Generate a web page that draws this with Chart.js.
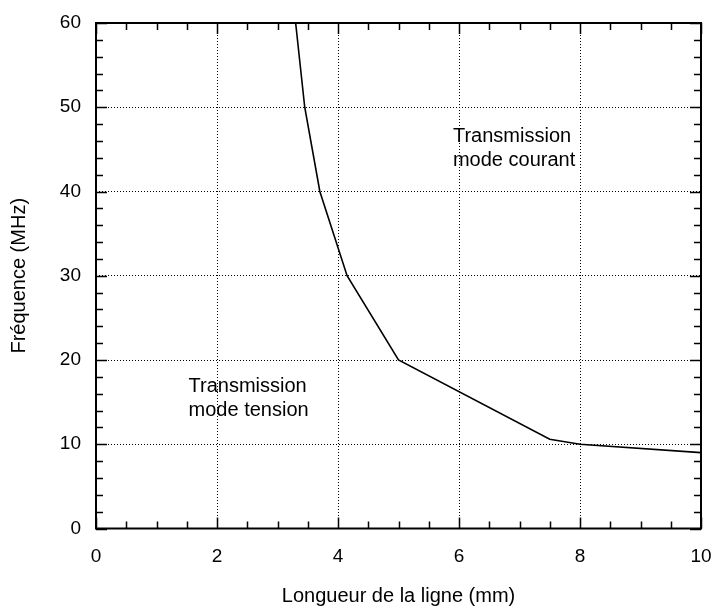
<!DOCTYPE html>
<html><head><meta charset="utf-8">
<script src="https://cdn.jsdelivr.net/npm/chart.js@4.4.0/dist/chart.umd.min.js"></script>
<style>html,body{margin:0;padding:0;background:#fff}#wrap{width:712px;height:606px}</style>
</head><body><div id="wrap"><canvas id="c" width="712" height="606"></canvas></div>
<script>
// ---- data ----
const lengthsMm = [3.3, 3.45, 3.7, 4.15, 5, 7.5, 8, 10];
const freqMHz   = [60, 50, 40, 30, 20, 10.6, 10, 9];
const xTickValues = [0, 2, 4, 6, 8, 10];
const yTickValues = [0, 10, 20, 30, 40, 50, 60];
const xTitle = 'Longueur de la ligne (mm)';
const yTitle = 'Fréquence (MHz)';
const labelCourant = ['Transmission', 'mode courant'];
const labelTension = ['Transmission', 'mode tension'];

const FONT = "'Liberation Sans', Arial, sans-serif";
Chart.defaults.font.family = FONT;
Chart.defaults.color = '#000';

const points = lengthsMm.map((x, i) => ({x: x, y: freqMHz[i]}));

const framePlugin = {
  id: 'frameTicks',
  afterDatasetsDraw(chart) {
    const ctx = chart.ctx, a = chart.chartArea;
    const xs = chart.scales.x, ys = chart.scales.y;
    ctx.save();
    ctx.strokeStyle = '#000';
    ctx.lineWidth = 1.5;
    ctx.beginPath();
    for (let v = xs.min; v <= xs.max + 1e-9; v += 0.5) {
      const px = Math.round(xs.getPixelForValue(v)) + 0.5;
      const major = xTickValues.includes(Math.round(v * 100) / 100);
      const len = major ? 11 : 7;
      ctx.moveTo(px, a.bottom); ctx.lineTo(px, a.bottom - len);
      ctx.moveTo(px, a.top); ctx.lineTo(px, a.top + len);
    }
    for (let v = ys.min; v <= ys.max + 1e-9; v += 2) {
      const py = Math.round(ys.getPixelForValue(v)) + 0.5;
      const major = yTickValues.includes(Math.round(v));
      const len = major ? 11 : 7;
      ctx.moveTo(a.left, py); ctx.lineTo(a.left + len, py);
      ctx.moveTo(a.right, py); ctx.lineTo(a.right - len, py);
    }
    ctx.stroke();
    ctx.lineWidth = 2;
    ctx.strokeRect(a.left, a.top, a.right - a.left, a.bottom - a.top);

    ctx.fillStyle = '#000';
    ctx.font = '20px ' + FONT;
    ctx.textAlign = 'left';
    ctx.textBaseline = 'alphabetic';
    const drawLbl = (lines, xv, yv) => {
      const px = xs.getPixelForValue(xv), py = ys.getPixelForValue(yv);
      lines.forEach((t, i) => ctx.fillText(t, px, py + i * 24));
    };
    drawLbl(labelCourant, 5.9, 45.85);
    drawLbl(labelTension, 1.53, 16.2);
    ctx.restore();
  }
};

new Chart(document.getElementById('c'), {
  type: 'scatter',
  data: {
    datasets: [{
      data: points,
      showLine: true,
      borderColor: '#000',
      borderWidth: 1.6,
      pointRadius: 0,
      fill: false,
      tension: 0
    }]
  },
  options: {
    responsive: false,
    animation: false,
    devicePixelRatio: 1,
    layout: { padding: { top: 23, right: 11, left: 0, bottom: 0 } },
    plugins: { legend: { display: false }, tooltip: { enabled: false } },
    scales: {
      x: {
        type: 'linear', min: 0, max: 10,
        afterBuildTicks: s => { s.ticks = xTickValues.map(v => ({value: v})); },
        afterFit: s => { s.height = 77.5; s.paddingLeft = 0; s.paddingRight = 0; },
        grid: { color: '#000', lineWidth: 1, drawTicks: false },
        border: { display: false, dash: [1, 2] },
        ticks: { font: { size: 19 }, padding: 17, color: '#000', maxRotation: 0 },
        title: { display: true, text: xTitle, font: { size: 20, lineHeight: 1.0 }, padding: { top: 0, bottom: 0 }, color: '#000' }
      },
      y: {
        type: 'linear', min: 0, max: 60,
        afterBuildTicks: s => { s.ticks = yTickValues.map(v => ({value: v})); },
        afterFit: s => { s.width = 96; s.paddingTop = 0; s.paddingBottom = 0; },
        grid: { color: '#000', lineWidth: 1, drawTicks: false },
        border: { display: false, dash: [1, 2] },
        ticks: { font: { size: 19 }, padding: 15, color: '#000' },
        title: { display: true, text: yTitle, font: { size: 20, lineHeight: 1.0 }, padding: { top: 9, bottom: 0 }, color: '#000' }
      }
    }
  },
  plugins: [framePlugin]
});
</script>
</body></html>
